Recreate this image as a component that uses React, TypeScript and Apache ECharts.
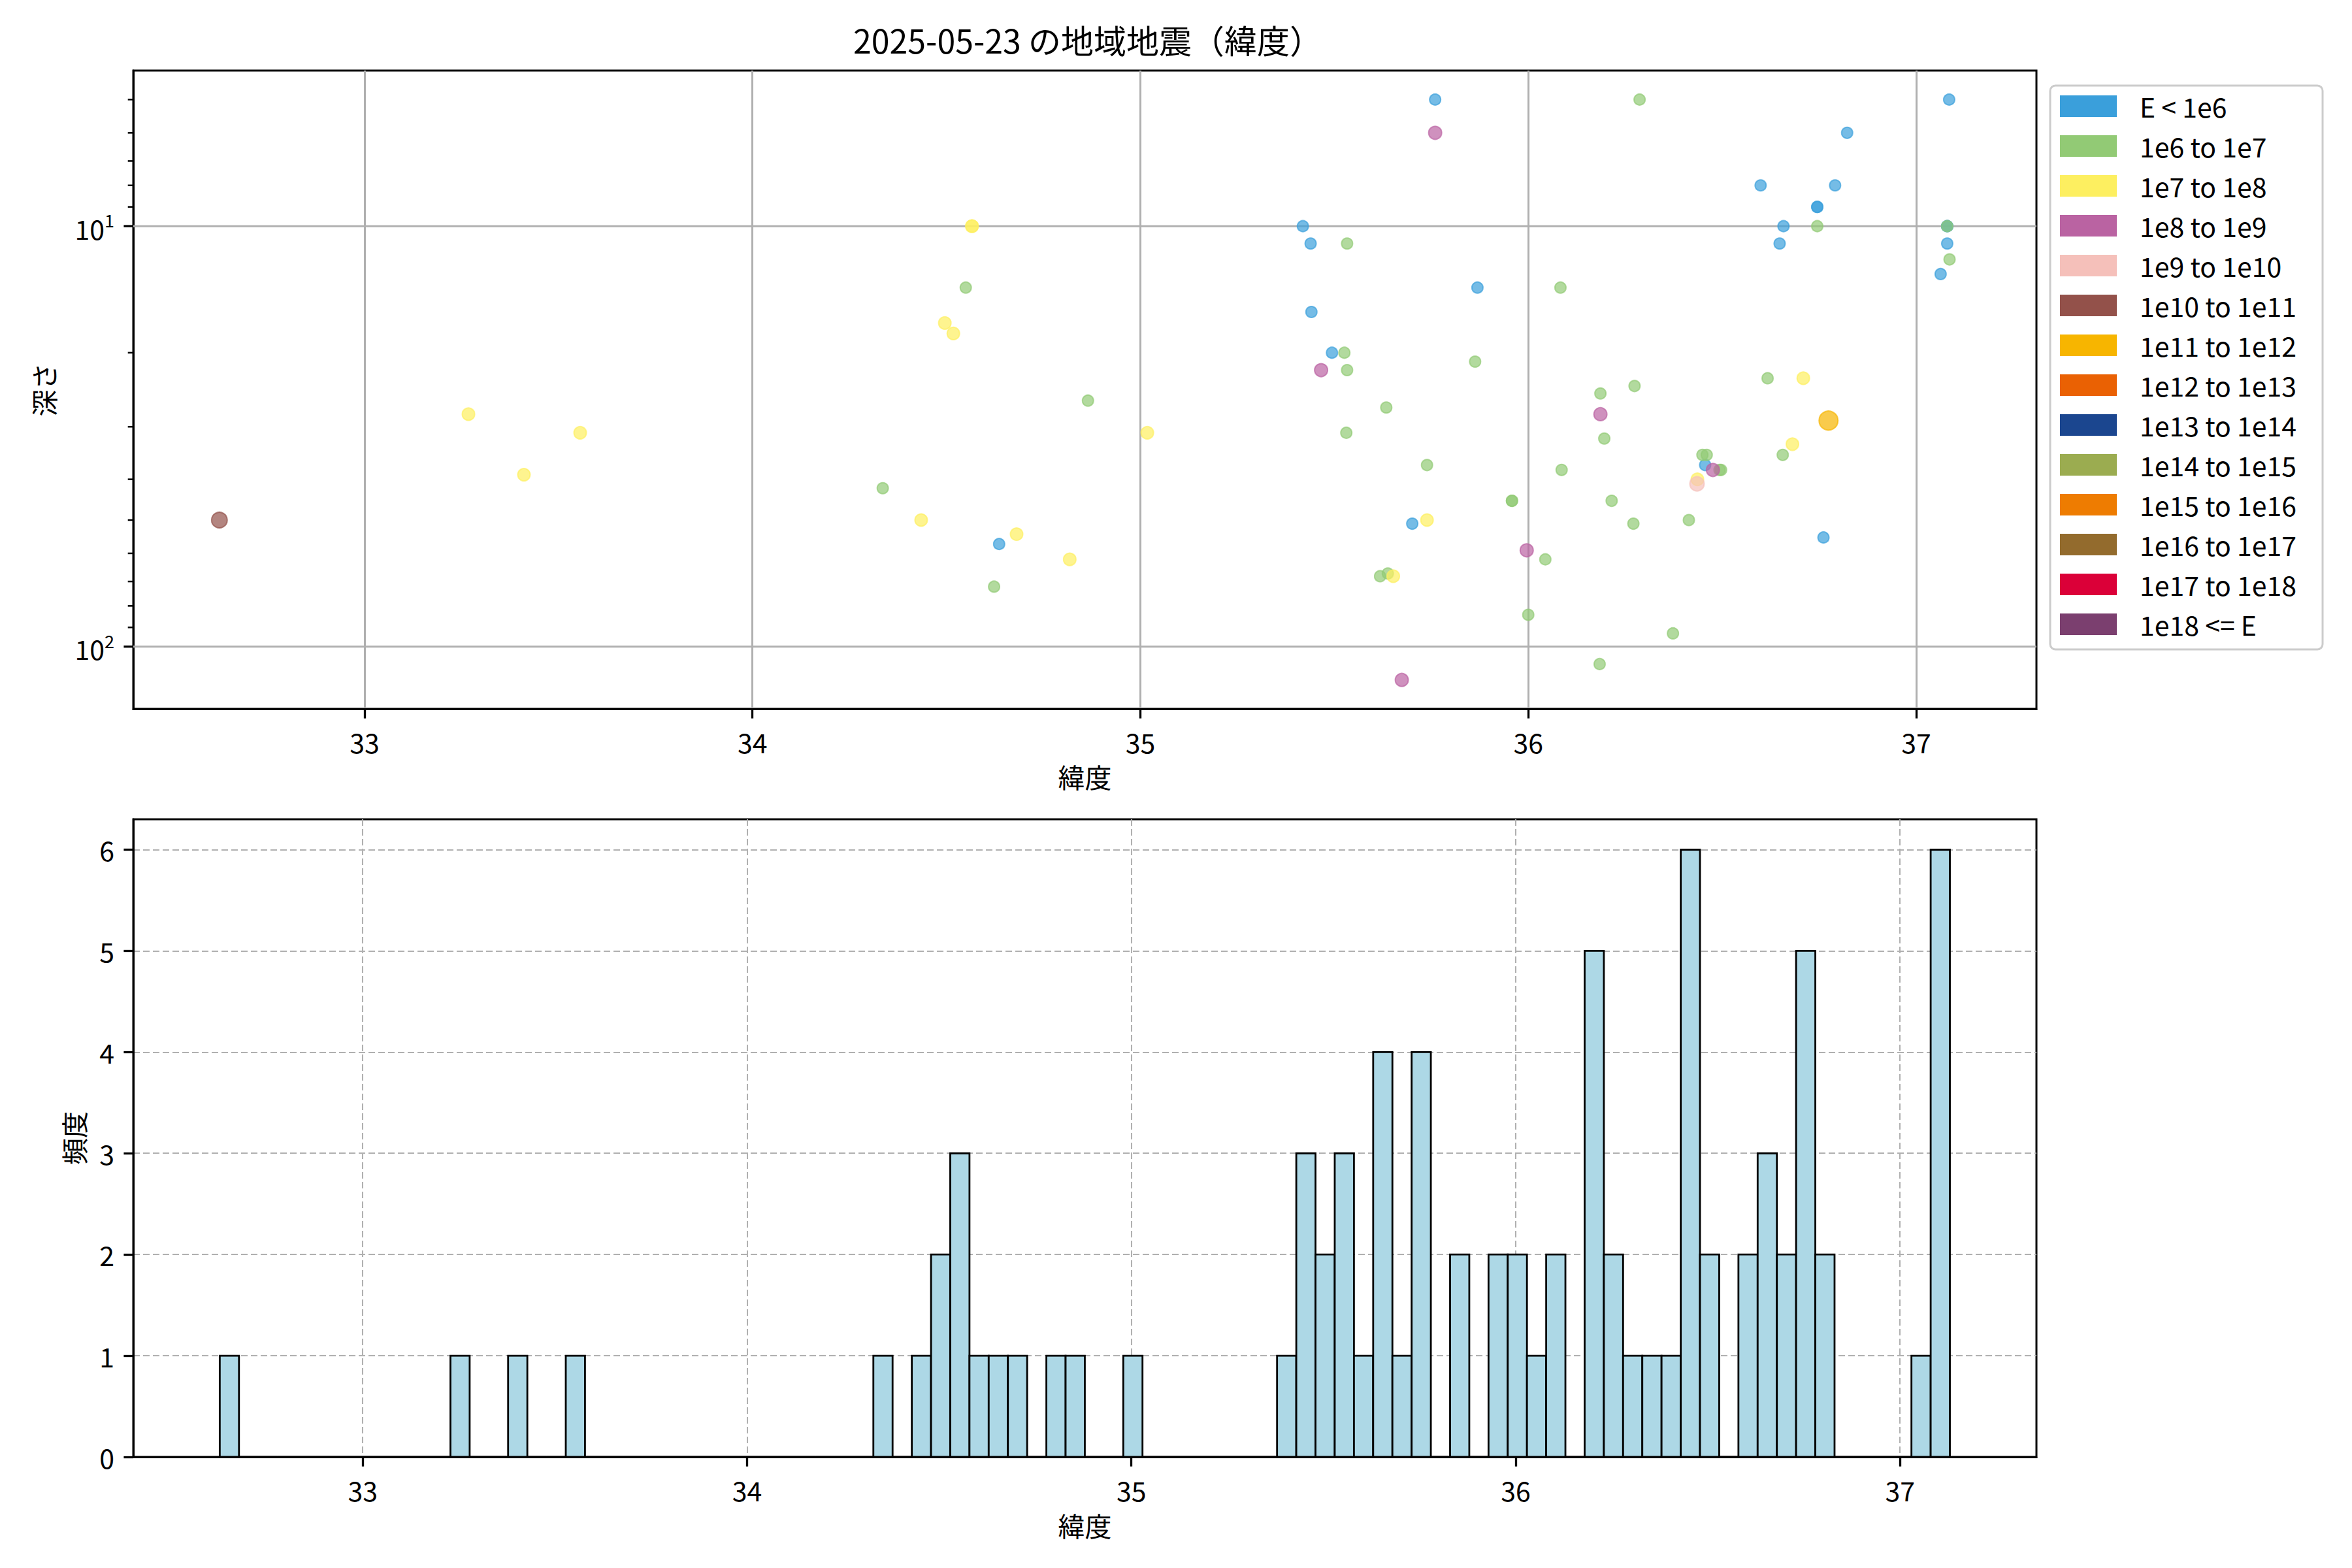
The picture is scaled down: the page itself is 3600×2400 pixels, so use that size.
import React, { useEffect, useRef } from "react";
import * as echarts from "echarts";

// ---- data ----
const CLASS_LABELS = [
  "E < 1e6", "1e6 to 1e7", "1e7 to 1e8", "1e8 to 1e9", "1e9 to 1e10",
  "1e10 to 1e11", "1e11 to 1e12", "1e12 to 1e13", "1e13 to 1e14",
  "1e14 to 1e15", "1e15 to 1e16", "1e16 to 1e17", "1e17 to 1e18", "1e18 <= E",
];
const CLASS_COLORS = [
  "#3a9fdb", "#92ca75", "#fdef60", "#ba63a2", "#f5c0ba", "#93514a", "#f7b500",
  "#ea6103", "#1b468f", "#9bac50", "#ee7c01", "#936b2d", "#db0038", "#7b3f6f",
];
const CLASS_SIZES = [17, 17, 19, 20, 22, 24, 29, 30, 31, 32, 33, 34, 35, 36];

const LATITUDES = [
  32.626, 33.268, 33.411, 33.556, 34.336, 34.435, 34.496, 34.518, 34.550, 34.566,
  34.566, 34.623, 34.636, 34.681, 34.818, 34.865, 35.018, 35.419, 35.439, 35.441,
  35.466, 35.494, 35.526, 35.531, 35.533, 35.533, 35.618, 35.634, 35.638, 35.652,
  35.674, 35.701, 35.739, 35.739, 35.760, 35.760, 35.863, 35.869, 35.958, 35.958,
  35.996, 36.000, 36.044, 36.083, 36.086, 36.184, 36.186, 36.186, 36.196, 36.215,
  36.271, 36.274, 36.287, 36.373, 36.414, 36.435, 36.436, 36.449, 36.456, 36.460,
  36.476, 36.493, 36.497, 36.599, 36.617, 36.648, 36.656, 36.658, 36.681, 36.709,
  36.745, 36.745, 36.745, 36.761, 36.774, 36.791, 36.822, 37.063, 37.080, 37.080,
  37.080, 37.080, 37.085, 37.086,
];
const DEPTHS = [
  50, 28, 39, 31, 42, 50, 17, 18, 14, 10,
  10, 72, 57, 54, 62, 26, 31, 10, 11, 16,
  22, 20, 20, 31, 11, 22, 68, 27, 67, 68,
  120, 51, 37, 50, 5, 6, 21, 14, 45, 45,
  59, 84, 62, 14, 38, 110, 25, 28, 32, 45,
  51, 24, 5, 93, 50, 41, 40, 35, 37, 35,
  38, 38, 38, 8, 23, 11, 35, 10, 33, 23,
  9, 9, 10, 55, 29, 8, 6, 13, 10, 10,
  10, 11, 5, 12,
];
const CLASSES = [
  5, 2, 2, 2, 1, 2, 2, 2, 1, 2,
  2, 1, 0, 2, 2, 1, 2, 0, 0, 0,
  3, 0, 1, 1, 1, 1, 1, 1, 1, 2,
  3, 0, 1, 2, 0, 3, 1, 0, 1, 1,
  3, 1, 1, 1, 1, 1, 1, 3, 1, 1,
  1, 1, 1, 1, 1, 4, 2, 1, 0, 1,
  3, 1, 1, 0, 1, 0, 1, 0, 2, 2,
  0, 0, 1, 0, 6, 0, 0, 0, 1, 0,
  0, 0, 0, 1,
];

const HIST_START = 32.628;
const HIST_WIDTH = 0.05002;
const HIST_COUNTS = [
  1, 0, 0, 0, 0, 0, 0, 0, 0, 0,
  0, 0, 1, 0, 0, 1, 0, 0, 1, 0,
  0, 0, 0, 0, 0, 0, 0, 0, 0, 0,
  0, 0, 0, 0, 1, 0, 1, 2, 3, 1,
  1, 1, 0, 1, 1, 0, 0, 1, 0, 0,
  0, 0, 0, 0, 0, 1, 3, 2, 3, 1,
  4, 1, 4, 0, 2, 0, 2, 2, 1, 2,
  0, 5, 2, 1, 1, 1, 6, 2, 0, 2,
  3, 2, 5, 2, 0, 0, 0, 0, 1, 6,
];

const X_TICKS = [33, 34, 35, 36, 37];
const Y_MAJOR = [10, 100];
const Y_MINOR = [5, 6, 7, 8, 9, 20, 30, 40, 50, 60, 70, 80, 90];
const HIST_Y_TICKS = [0, 1, 2, 3, 4, 5, 6];

const TITLE = "2025-05-23 の地域地震（緯度）";

export default function App() {
  const ref = useRef<HTMLDivElement>(null);
  useEffect(() => {
    document.body.style.margin = "0";
    const chart = echarts.init(ref.current!, null, { renderer: "svg" });
    const FONT = '"Noto Sans CJK JP", "Noto Sans", sans-serif';
    const X_MIN = 32.404, X_MAX = 37.31;
    const H_X_MIN = 32.403, H_X_MAX = 37.355;
    const Y_MIN = 4.266, Y_MAX = 140.6;
    const FS = 41;

    const scatterSeries = CLASS_LABELS.map((label, k) => ({
      type: "scatter",
      name: label,
      xAxisIndex: 0,
      yAxisIndex: 0,
      symbolSize: CLASS_SIZES[k],
      z: 3,
      itemStyle: {
        color: CLASS_COLORS[k],
        opacity: 0.7,
        borderColor: CLASS_COLORS[k],
        borderWidth: 2,
      },
      data: LATITUDES.map((lat, i) => [lat, DEPTHS[i], CLASSES[i]])
        .filter((d) => d[2] === k)
        .map((d) => [d[0], d[1]]),
    }));

    const yTickSeries = {
      type: "custom",
      name: "yticks",
      xAxisIndex: 0,
      yAxisIndex: 0,
      z: 1,
      silent: true,
      clip: false,
      encode: { x: 0, y: 1 },
      data: [
        ...Y_MAJOR.map((v) => [X_MIN, v, 1]),
        ...Y_MINOR.map((v) => [X_MIN, v, 0]),
      ],
      renderItem: (params: any, api: any) => {
        const v = api.value(1);
        const major = api.value(2) === 1;
        const p = api.coord([X_MIN, v]);
        const q = api.coord([X_MAX, v]);
        const children: any[] = [];
        if (major) {
          children.push({
            type: "line",
            shape: { x1: p[0], y1: p[1], x2: q[0], y2: q[1] },
            style: { stroke: "#b0b0b0", lineWidth: 3 },
          });
        }
        children.push({
          type: "line",
          shape: { x1: p[0] - (major ? 14.6 : 8.3), y1: p[1], x2: p[0], y2: p[1] },
          style: { stroke: "#000", lineWidth: major ? 3.3 : 2.5 },
        });
        return { type: "group", children };
      },
    };

    const histSeries = {
      type: "custom",
      name: "hist",
      xAxisIndex: 1,
      yAxisIndex: 1,
      z: 2,
      silent: true,
      encode: { x: [0, 2], y: 1 },
      data: HIST_COUNTS.map((c, i) => [HIST_START + i * HIST_WIDTH, c, HIST_START + (i + 1) * HIST_WIDTH]),
      renderItem: (params: any, api: any) => {
        const x0 = api.value(0), c = api.value(1), x1 = api.value(2);
        const a = api.coord([x0, c]);
        const b = api.coord([x1, 0]);
        if (c === 0) {
          return {
            type: "line",
            shape: { x1: a[0], y1: b[1], x2: b[0], y2: b[1] },
            style: { stroke: "#000", lineWidth: 2.8 },
          };
        }
        return {
          type: "rect",
          shape: { x: a[0], y: a[1], width: b[0] - a[0], height: b[1] - a[1] },
          style: { fill: "#add8e6", stroke: "#000", lineWidth: 2.8 },
        };
      },
    };

    const axisLabel = { fontSize: FS, color: "#000", fontFamily: FONT, margin: 29 };
    const nameStyle = { fontSize: FS, color: "#000", fontFamily: FONT };
    const axisLine = { show: true, lineStyle: { color: "#000", width: 3 } };
    const axisTick = { show: true, length: 14.6, lineStyle: { color: "#000", width: 3.3 } };

    chart.setOption({
      animation: false,
      textStyle: { fontFamily: FONT },
      title: {
        text: TITLE,
        left: 1660,
        top: 30,
        textAlign: "center",
        textStyle: { fontSize: 50, fontWeight: "normal", color: "#000", fontFamily: FONT },
      },
      legend: {
        orient: "vertical",
        left: 3138,
        top: 131,
        padding: [11, 40, 18, 15],
        itemGap: 20,
        itemWidth: 87,
        itemHeight: 33,
        icon: "rect",
        selectedMode: false,
        backgroundColor: "rgba(255,255,255,0.8)",
        borderColor: "#cccccc",
        borderWidth: 3,
        borderRadius: 8,
        textStyle: { fontSize: FS, color: "#000", fontFamily: FONT, lineHeight: 33, padding: [0, 0, 0, 30] },
        itemStyle: { opacity: 1, borderWidth: 0 },
        data: CLASS_LABELS.map((n, k) => ({
          name: n,
          itemStyle: { color: CLASS_COLORS[k], opacity: 1, borderWidth: 0 },
        })),
      },
      grid: [
        { left: 204, top: 108, width: 2913, height: 977, show: true, borderColor: "#000", borderWidth: 3 },
        { left: 204, top: 1254, width: 2913, height: 976, show: true, borderColor: "#000", borderWidth: 3 },
      ],
      xAxis: [
        {
          type: "value",
          gridIndex: 0,
          min: X_MIN,
          max: X_MAX,
          name: "緯度",
          nameLocation: "middle",
          nameGap: 82,
          nameTextStyle: nameStyle,
          axisLine,
          axisTick: { ...axisTick, customValues: X_TICKS },
          axisLabel: { ...axisLabel, customValues: X_TICKS },
          splitLine: { show: true, lineStyle: { color: "#b0b0b0", width: 3 } },
        },
        {
          type: "value",
          gridIndex: 1,
          min: H_X_MIN,
          max: H_X_MAX,
          name: "緯度",
          nameLocation: "middle",
          nameGap: 83,
          nameTextStyle: nameStyle,
          axisLine,
          axisTick: { ...axisTick, customValues: X_TICKS },
          axisLabel: { ...axisLabel, customValues: X_TICKS },
          splitLine: { show: true, lineStyle: { color: "#b0b0b0", width: 2, type: [10, 5] } },
        },
      ],
      yAxis: [
        {
          type: "log",
          logBase: 10,
          gridIndex: 0,
          inverse: true,
          min: Y_MIN,
          max: Y_MAX,
          name: "深さ",
          nameLocation: "middle",
          nameGap: 118,
          nameTextStyle: nameStyle,
          axisLine,
          axisTick: { show: false },
          splitLine: { show: false },
          axisLabel: {
            ...axisLabel,
            showMinLabel: false,
            showMaxLabel: false,
            formatter: (v: number) => `{b|10}{s|${Math.round(Math.log10(v))}}`,
            rich: {
              b: { fontSize: FS, color: "#000", fontFamily: FONT, lineHeight: 46, verticalAlign: "bottom" },
              s: { fontSize: 27, color: "#000", fontFamily: FONT, lineHeight: 27, verticalAlign: "top" },
            },
          },
        },
        {
          type: "value",
          gridIndex: 1,
          min: 0,
          max: 6.3,
          name: "頻度",
          nameLocation: "middle",
          nameGap: 72,
          nameTextStyle: nameStyle,
          axisLine,
          axisTick: { ...axisTick, customValues: HIST_Y_TICKS },
          axisLabel: { ...axisLabel, customValues: HIST_Y_TICKS },
          splitLine: { show: true, showMinLine: false, lineStyle: { color: "#b0b0b0", width: 2, type: [10, 5] } },
        },
      ],
      series: [yTickSeries, ...scatterSeries, histSeries],
    });
    return () => chart.dispose();
  }, []);
  return <div ref={ref} style={{ width: 3600, height: 2400 }} />;
}
